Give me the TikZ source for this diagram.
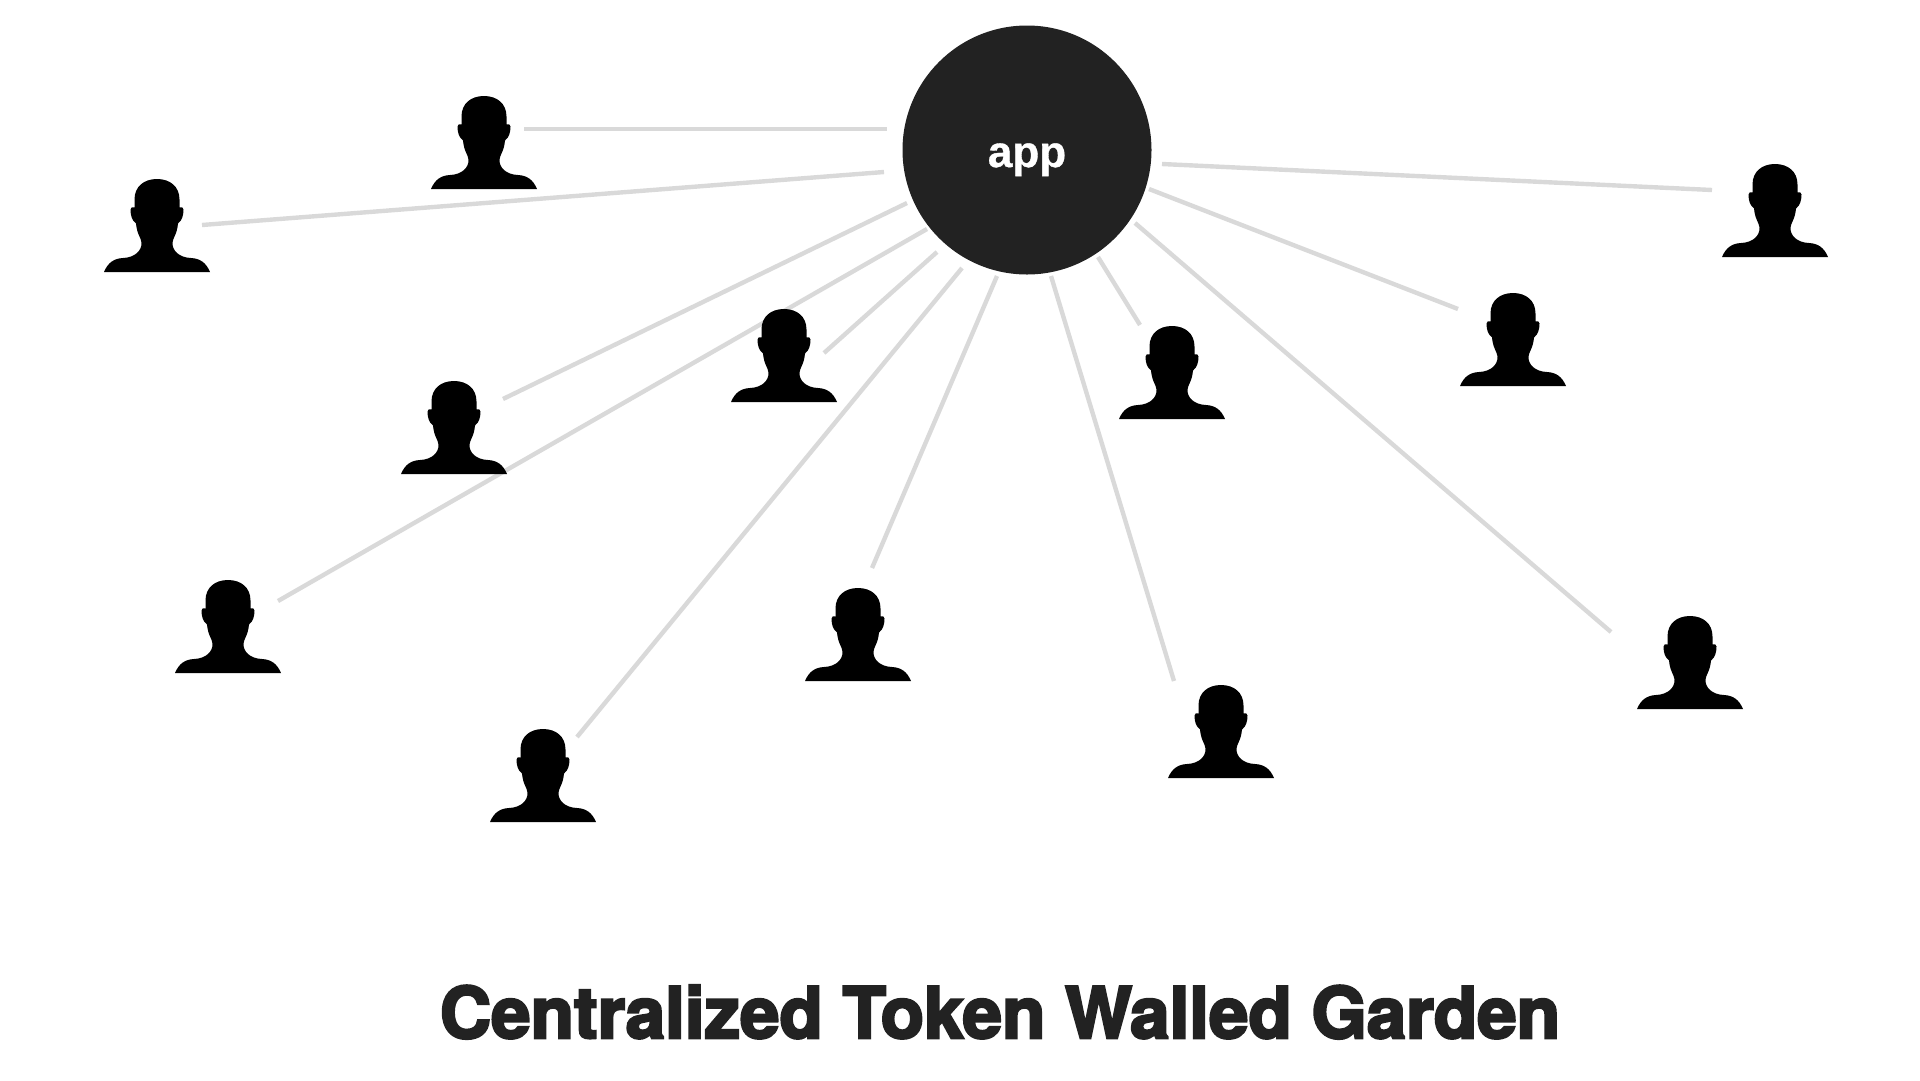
\documentclass[tikz,border=0pt]{standalone}
\usepackage{fontspec}
\setmainfont{Liberation Sans}
\newfontfamily\appfont[BoldFeatures={FakeBold=0.8}]{Liberation Sans}
\newfontfamily\titlefont[BoldFeatures={FakeBold=3.5}]{TeX Gyre Heros}
\usetikzlibrary{positioning}

\newcommand{\personshape}{%
  \fill[black] (-53,46.5) .. controls (-49,37) and (-43,33) .. (-34,32.5)
    .. controls (-22,32) and (-15,25) .. (-15.5,17)
    .. controls (-16,12) and (-20,9) .. (-21,-2)
    .. controls (-25,-5) and (-26.5,-10) .. (-26.5,-16)
    .. controls (-26.5,-18.5) and (-24.5,-18.5) .. (-22.5,-18)
    -- (-22.5,-26) .. controls (-22.5,-39) and (-13,-46.5) .. (0,-46.5)
    .. controls (13,-46.5) and (22.5,-39) .. (22.5,-26)
    -- (22.5,-18) .. controls (24.5,-18.5) and (26.5,-18.5) .. (26.5,-16)
    .. controls (26.5,-10) and (25,-5) .. (21,-2)
    .. controls (20,9) and (16,12) .. (15.5,17)
    .. controls (15,25) and (22,32) .. (34,32.5)
    .. controls (43,33) and (49,37) .. (53,46.5) -- cycle;}

\begin{document}
\begin{tikzpicture}[
                x=1pt, y=-1pt,
                hub/.style={circle, fill=hubgray, minimum size=249pt, inner sep=0pt, text=white,
                  font=\appfont\fontsize{44}{44}\selectfont\bfseries, text height=41pt, text depth=7pt},
                person/.style={minimum width=107pt, minimum height=94pt, inner sep=0pt, path picture={\personshape}},
                link/.style={draw=linegray, line width=4.4pt},
                caption/.style={text=hubgray, inner sep=0pt, font=\titlefont\fontsize{71}{71}\selectfont\bfseries}
            ]
            \definecolor{hubgray}{HTML}{222222}
            \definecolor{linegray}{HTML}{D9D9D9}
            \useasboundingbox (0,0) rectangle (1920,1080);

            % Line ends
            \coordinate (e1) at (524,129);  \coordinate (h1) at (887,129);
            \coordinate (e2) at (202,225);  \coordinate (h2) at (884,172);
            \coordinate (e3) at (1712,190); \coordinate (h3) at (1162,164);
            \coordinate (e4) at (1458,309); \coordinate (h4) at (1149,189);
            \coordinate (e5) at (1611,632); \coordinate (h5) at (1135,223);
            \coordinate (e6) at (1140,325); \coordinate (h6) at (1098,257);
            \coordinate (e7) at (1174,681); \coordinate (h7) at (1051,276);
            \coordinate (e8) at (872,568);  \coordinate (h8) at (997,276);
            \coordinate (e9) at (577,737);  \coordinate (h9) at (962,268);
            \coordinate (e10) at (824,353); \coordinate (h10) at (937,252);
            \coordinate (e11) at (278,601); \coordinate (h11) at (927,229);
            \coordinate (e12) at (503,399); \coordinate (h12) at (907,203);

            % Links
            \draw[link] (e1) -- (h1);
            \draw[link] (e2) -- (h2);
            \draw[link] (e3) -- (h3);
            \draw[link] (e4) -- (h4);
            \draw[link] (e5) -- (h5);
            \draw[link] (e6) -- (h6);
            \draw[link] (e7) -- (h7);
            \draw[link] (e8) -- (h8);
            \draw[link] (e9) -- (h9);
            \draw[link] (e10) -- (h10);
            \draw[link] (e11) -- (h11);
            \draw[link] (e12) -- (h12);

            % App
            \node[hub] (app) at (1027, 150) {app};

            % People
            \node[person] (p1) at (484, 142.5) {};
            \node[person] (p2) at (157, 225.5) {};
            \node[person] (p3) at (1775, 210.5) {};
            \node[person] (p4) at (1513, 339.5) {};
            \node[person] (p5) at (1172, 372.5) {};
            \node[person] (p6) at (784, 355.5) {};
            \node[person] (p7) at (454, 427.5) {};
            \node[person] (p8) at (228, 626.5) {};
            \node[person] (p9) at (858, 634.5) {};
            \node[person] (p10) at (543, 775.5) {};
            \node[person] (p11) at (1221, 731.5) {};
            \node[person] (p12) at (1690, 662.5) {};

            % Title
            \node[caption] (title) at (1000, 1012) {Centralized Token Walled Garden};
            \end{tikzpicture}
\end{document}
